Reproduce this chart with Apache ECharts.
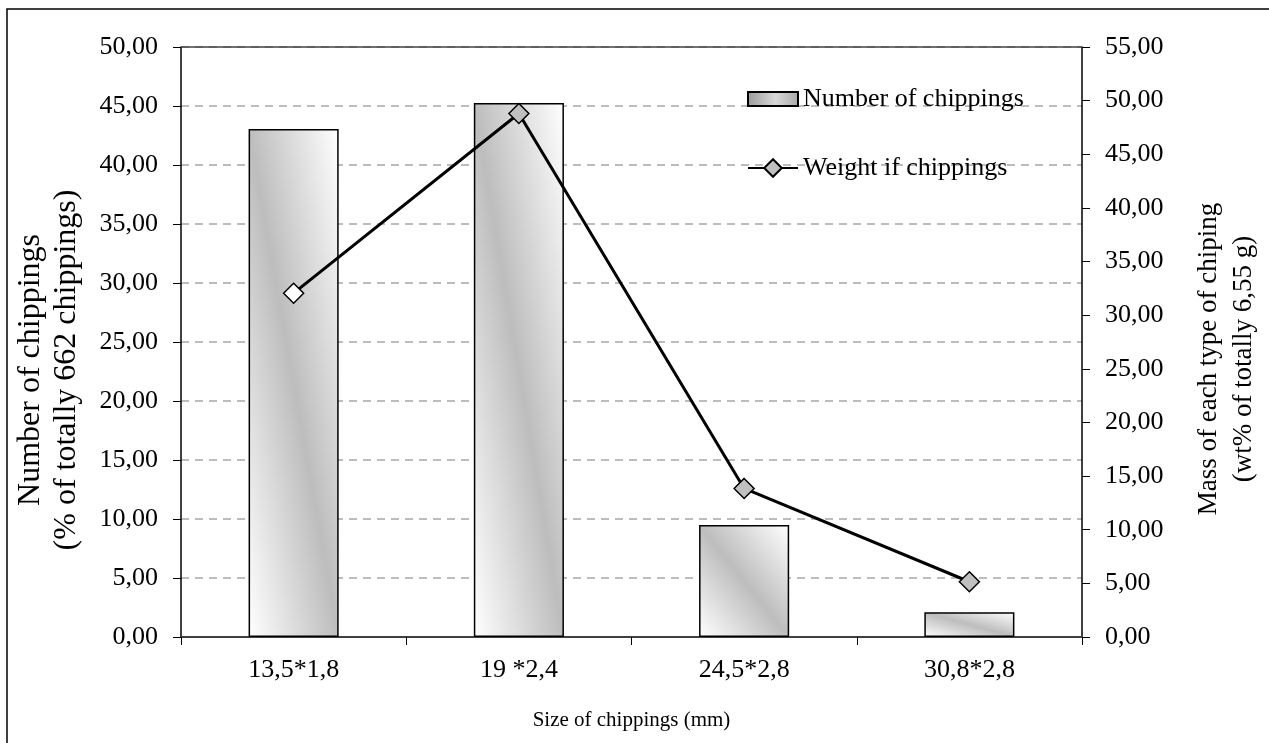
<!DOCTYPE html>
<html><head><meta charset="utf-8">
<script src="https://cdn.jsdelivr.net/npm/echarts@6/dist/echarts.min.js"></script>
<style>html,body{margin:0;padding:0;background:#fff}#c{width:1269px;height:743px}</style>
</head><body><div id="c"></div>
<script>
const categories = ['13,5*1,8', '19 *2,4', '24,5*2,8', '30,8*2,8'];
const numberOfChippings = [43.05, 45.25, 9.5, 2.1];
const weightOfChippings = [32.05, 48.8, 13.85, 5.15];
const leftTicks = { min: 0, max: 50, interval: 5 };
const rightTicks = { min: 0, max: 55, interval: 5 };
const leftTitle = 'Number of chippings\n(% of totally 662 chippings)';
const rightTitle = 'Mass of each type of chiping\n(wt% of totally 6,55 g)';
const xTitle = 'Size of chippings (mm)';
const legendNames = ['Number of chippings', 'Weight if chippings'];

const FONT = "'Liberation Serif', 'Times New Roman', serif";
const fmt = v => v.toFixed(2).replace('.', ',');
const chart = echarts.init(document.getElementById('c'), null, { renderer: 'canvas' });

const option = {
  backgroundColor: '#fff',
  animation: false,
  textStyle: { fontFamily: FONT, color: '#000' },
  grid: { left: 181, right: 182, top: 47, bottom: 106, containLabel: false },
  graphic: [{
    type: 'rect', silent: true, z: -10,
    shape: { x: 7, y: 9, width: 1400, height: 900 },
    style: { fill: 'none', stroke: '#000', lineWidth: 1.5 }
  }],
  legend: {
    orient: 'vertical', left: 742, top: 79,
    itemWidth: 50, itemHeight: 22, itemGap: 39,
    textStyle: { fontFamily: FONT, fontSize: 26, color: '#000', lineHeight: 30 },
    data: [
      { name: legendNames[0], icon: 'path://M0,0L0,0M0,4L50,4L50,18L0,18ZM0,22L0,22' },
      { name: legendNames[1] }
    ]
  },
  xAxis: [{
    type: 'category', data: categories, position: 'bottom',
    axisLine: { lineStyle: { color: '#404040', width: 2 } },
    axisTick: { show: true, length: 8, lineStyle: { color: '#000', width: 1 } },
    axisLabel: { margin: 20, fontSize: 26, fontFamily: FONT, color: '#000' },
    name: xTitle, nameLocation: 'middle', nameGap: 73,
    nameTextStyle: { fontSize: 21, fontFamily: FONT, color: '#000' },
    splitLine: { show: false }
  }],
  yAxis: [{
    type: 'value', position: 'left', min: leftTicks.min, max: leftTicks.max, interval: leftTicks.interval,
    axisLine: { show: true, lineStyle: { color: '#000', width: 1.5 } },
    axisTick: { show: true, length: 8, lineStyle: { color: '#000', width: 1 } },
    axisLabel: { margin: 23, fontSize: 26, fontFamily: FONT, color: '#000', formatter: fmt },
    splitLine: { show: true, lineStyle: { color: '#a8a8a8', width: 1.5, type: [8, 6] } },
    name: leftTitle, nameLocation: 'middle', nameRotate: 90, nameGap: 96,
    nameTextStyle: { fontSize: 32, lineHeight: 36, fontFamily: FONT, color: '#000', padding: [0, 56, 0, 0] }
  }, {
    type: 'value', position: 'right', min: rightTicks.min, max: rightTicks.max, interval: rightTicks.interval,
    axisLine: { show: true, lineStyle: { color: '#000', width: 1.5 } },
    axisTick: { show: true, length: 8, lineStyle: { color: '#000', width: 1 } },
    axisLabel: { margin: 23, fontSize: 26, fontFamily: FONT, color: '#000', formatter: fmt },
    splitLine: { show: false },
    name: rightTitle, nameLocation: 'middle', nameRotate: 90, nameGap: 109,
    nameTextStyle: { fontSize: 27, lineHeight: 35, fontFamily: FONT, color: '#000', padding: [0, 34, 0, 0] }
  }],
  series: [{
    name: legendNames[0], type: 'bar', xAxisIndex: 0, yAxisIndex: 0,
    barWidth: '40%', z: 2,
    itemStyle: {
      color: { type: 'linear', x: 0, y: 0, x2: 1, y2: 0, colorStops: [
        { offset: 0, color: '#9a9a9a' }, { offset: 0.55, color: '#d8d8d8' }, { offset: 1, color: '#a8a8a8' }] },
      borderColor: '#000', borderWidth: 1.5
    },
    markLine: {
      silent: true, symbol: 'none', label: { show: false }, animation: false,
      lineStyle: { type: 'solid', color: '#404040', width: 1.5 },
      data: [{ yAxis: leftTicks.max }]
    },
    data: numberOfChippings.slice()
  }, {
    name: legendNames[1], type: 'line', xAxisIndex: 0, yAxisIndex: 1, z: 5,
    symbol: 'diamond', symbolSize: 20,
    lineStyle: { color: '#000', width: 3 },
    itemStyle: { color: '#c0c0c0', borderColor: '#000', borderWidth: 1.5 },
    data: weightOfChippings.map((v, i) => i === 0 ? { value: v, itemStyle: { color: '#ffffff' } } : v)
  }]
};
chart.setOption(option);

// Diagonal gradient per bar (band runs from top-left to bottom-right corner), sized from the axis scale.
const y0 = chart.convertToPixel({ yAxisIndex: 0 }, 0);
const band = chart.convertToPixel({ xAxisIndex: 0 }, categories[1]) - chart.convertToPixel({ xAxisIndex: 0 }, categories[0]);
const w = band * 0.4;
const barData = numberOfChippings.map(v => {
  const h = Math.abs(y0 - chart.convertToPixel({ yAxisIndex: 0 }, v));
  const L2 = w * w + h * h;
  const a = h * h / L2, b = w * w / L2;
  return {
    value: v,
    itemStyle: {
      color: { type: 'linear', x: 0.5 - a, y: 0.5 + b, x2: 0.5 + a, y2: 0.5 - b, colorStops: [
        { offset: 0, color: '#ffffff' }, { offset: 0.5, color: '#bdbdbd' }, { offset: 1, color: '#ffffff' }] }
    }
  };
});
chart.setOption({ series: [{ data: barData }, {}] });
</script>
</body></html>
